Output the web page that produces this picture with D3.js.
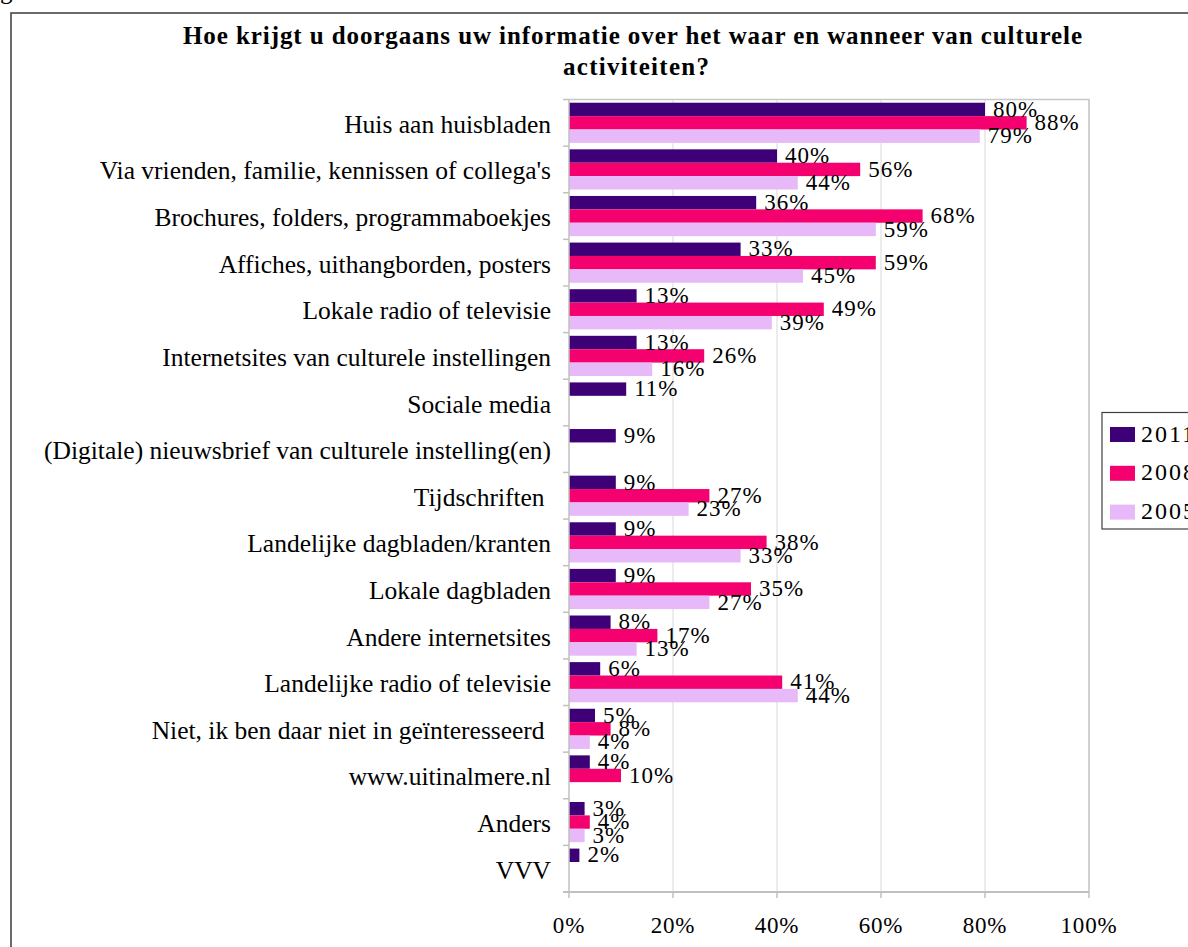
<!DOCTYPE html>
<html>
<head>
<meta charset="utf-8">
<script src="https://cdn.jsdelivr.net/npm/d3@7"></script>
<style>
  html, body { margin: 0; padding: 0; background: #fff; }
  svg { display: block; }
  text { font-family: "Liberation Serif", "Times New Roman", serif; fill: #000; white-space: pre; }
</style>
</head>
<body>
<svg id="chart" width="1188" height="947"></svg>
<script>
const titleLines = ["Hoe krijgt u doorgaans uw informatie over het waar en wanneer van culturele", "activiteiten?"];
const categories = [
  "Huis aan huisbladen",
  "Via vrienden, familie, kennissen of collega's",
  "Brochures, folders, programmaboekjes",
  "Affiches, uithangborden, posters",
  "Lokale radio of televisie",
  "Internetsites van culturele instellingen",
  "Sociale media",
  "(Digitale) nieuwsbrief van culturele instelling(en)",
  "Tijdschriften ",
  "Landelijke dagbladen/kranten",
  "Lokale dagbladen",
  "Andere internetsites",
  "Landelijke radio of televisie",
  "Niet, ik ben daar niet in geïnteresseerd ",
  "www.uitinalmere.nl",
  "Anders",
  "VVV"
];
const seriesNames = ["2011", "2008", "2005"];
const values2011 = [80, 40, 36, 33, 13, 13, 11, 9, 9, 9, 9, 8, 6, 5, 4, 3, 2];
const values2008 = [88, 56, 68, 59, 49, 26, null, null, 27, 38, 35, 17, 41, 8, 10, 4, null];
const values2005 = [79, 44, 59, 45, 39, 16, null, null, 23, 33, 27, 13, 44, 4, null, 3, null];
const xTicks = [0, 20, 40, 60, 80, 100];
const colors = ["#3d0077", "#f4006f", "#e7b9f9"];

(function () {
const seriesValues = [values2011, values2008, values2005];
const svg = d3.select("#chart");

// outer frame
svg.append("rect").attr("x", 11).attr("y", 13).attr("width", 1200).attr("height", 960)
  .attr("fill", "none").attr("stroke", "#3a3a3a").attr("stroke-width", 1.5);
// cut caption descender
svg.append("text").attr("x", 0).attr("y", -1).style("font-size", "25px").text("g");

// title
svg.append("text").attr("x", 632.5).attr("y", 43.5).attr("text-anchor", "middle")
  .attr("textLength", 899).attr("lengthAdjust", "spacing")
  .style("font-size", "25px").style("font-weight", "bold").text(titleLines[0]);
svg.append("text").attr("x", 636).attr("y", 75).attr("text-anchor", "middle")
  .attr("textLength", 146).attr("lengthAdjust", "spacing")
  .style("font-size", "25px").style("font-weight", "bold").text(titleLines[1]);

const pL = 569, pR = 1089, pT = 99.5, pB = 892;
const x = d3.scaleLinear().domain([0, 100]).range([pL, pR]);
const y = d3.scaleBand().domain(categories).range([pT, pB]).paddingInner(0).paddingOuter(0);
const ySub = d3.scaleBand().domain(seriesNames).range([0, y.bandwidth()]).paddingInner(0).paddingOuter(0.24);

// gridlines
svg.append("g").selectAll("line").data(xTicks.filter(d => d > 0)).join("line")
  .attr("x1", d => x(d)).attr("x2", d => x(d)).attr("y1", pT).attr("y2", pB)
  .attr("stroke", "#d9d9d9").attr("stroke-width", 1);

// plot border (top, right)
svg.append("path").attr("d", `M${pL},${pT}H${pR}V${pB}`)
  .attr("fill", "none").attr("stroke", "#c8c8c8").attr("stroke-width", 1.5);

// bars
seriesNames.forEach((s, si) => {
  const vals = seriesValues[si];
  const data = categories.map((c, i) => ({ c, v: vals[i] })).filter(d => d.v != null);
  svg.append("g").selectAll("rect").data(data).join("rect")
    .attr("x", x(0)).attr("y", d => y(d.c) + ySub(s))
    .attr("width", d => x(d.v) - x(0)).attr("height", ySub.bandwidth())
    .attr("fill", colors[si]);
});

// data labels
seriesNames.forEach((s, si) => {
  const vals = seriesValues[si];
  const data = categories.map((c, i) => ({ c, v: vals[i] })).filter(d => d.v != null);
  svg.append("g").selectAll("text").data(data).join("text")
    .attr("x", d => x(d.v) + 8).attr("y", d => y(d.c) + ySub(s) + ySub.bandwidth() + 0.5)
    .style("font-size", "23px").style("letter-spacing", "1px").text(d => d.v + "%");
});

// left axis
const yAxis = svg.append("g");
yAxis.append("line").attr("x1", pL).attr("x2", pL).attr("y1", pT).attr("y2", pB)
  .attr("stroke", "#c0c0c0").attr("stroke-width", 1.5);
const bounds = categories.map(c => y(c)).concat([pB]);
yAxis.selectAll("line.tk").data(bounds).join("line").attr("class", "tk")
  .attr("x1", pL - 6).attr("x2", pL).attr("y1", d => d).attr("y2", d => d)
  .attr("stroke", "#c0c0c0").attr("stroke-width", 1.5);
yAxis.selectAll("text").data(categories).join("text")
  .attr("x", 551).attr("y", d => y(d) + y.bandwidth() / 2 + 10)
  .attr("text-anchor", "end").style("font-size", "25.5px").text(d => d);

// bottom axis
const xAxis = svg.append("g");
xAxis.append("line").attr("x1", pL - 6).attr("x2", pR).attr("y1", pB).attr("y2", pB)
  .attr("stroke", "#c0c0c0").attr("stroke-width", 2);
xAxis.selectAll("line.tk").data(xTicks).join("line").attr("class", "tk")
  .attr("x1", d => x(d)).attr("x2", d => x(d)).attr("y1", pB).attr("y2", pB + 6)
  .attr("stroke", "#c0c0c0").attr("stroke-width", 1.5);
xAxis.selectAll("text").data(xTicks).join("text")
  .attr("x", d => x(d)).attr("y", 933).attr("text-anchor", "middle")
  .style("font-size", "23px").style("letter-spacing", "0.8px").text(d => d + "%");

// legend
const lg = svg.append("g");
lg.append("rect").attr("x", 1102).attr("y", 412.5).attr("width", 120).attr("height", 116.5)
  .attr("fill", "#fff").attr("stroke", "#404040").attr("stroke-width", 1.2);
seriesNames.forEach((s, i) => {
  const yy = 427 + i * 38.8;
  lg.append("rect").attr("x", 1110).attr("y", yy).attr("width", 25).attr("height", 15).attr("fill", colors[i]);
  lg.append("text").attr("x", 1141).attr("y", yy + 14.5).style("font-size", "24px").style("letter-spacing", "2px").text(s);
});
})();
</script>
</body>
</html>
